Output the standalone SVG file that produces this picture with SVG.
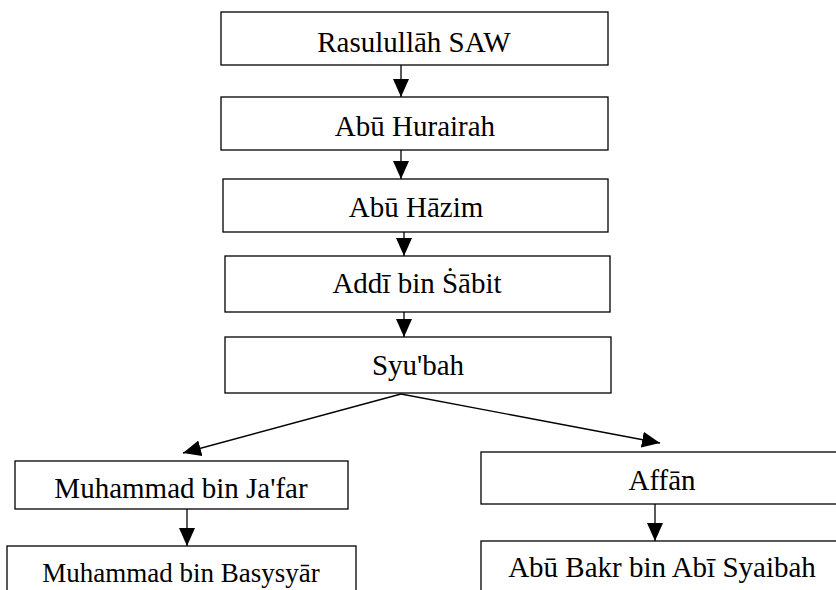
<svg xmlns="http://www.w3.org/2000/svg" width="836" height="590" viewBox="0 0 836 590">
<style>
.box{fill:#fff;stroke:#000;stroke-width:1.3}
.lbl{font-family:"Liberation Serif","Times New Roman",serif;font-size:29px;fill:#000;text-anchor:middle}
.con{stroke:#000;stroke-width:1.3;fill:none;marker-end:url(#ah)}
</style>
<defs>
<marker id="ah" viewBox="0 0 18 16" refX="18" refY="8" markerWidth="18" markerHeight="16" markerUnits="userSpaceOnUse" orient="auto">
<path d="M0,0 L18,8 L0,16 Z" fill="#000"/>
</marker>
</defs>
<rect width="836" height="590" fill="#fff"/>
<g id="connectors">
<line class="con" x1="401" y1="65" x2="401" y2="97"/>
<line class="con" x1="401" y1="150" x2="401" y2="179"/>
<line class="con" x1="404" y1="232" x2="404" y2="256"/>
<line class="con" x1="404" y1="312" x2="404" y2="337"/>
<line class="con" x1="401" y1="394" x2="183" y2="453"/>
<line class="con" x1="401" y1="394" x2="660" y2="443"/>
<line class="con" x1="187" y1="509" x2="187" y2="546"/>
<line class="con" x1="655" y1="504" x2="655" y2="541"/>
</g>
<g id="n1"><rect class="box" x="221" y="12" width="387" height="53"/><text class="lbl" x="414" y="52">Rasulullāh SAW</text></g>
<g id="n2"><rect class="box" x="221" y="97" width="387" height="53"/><text class="lbl" x="415" y="136">Abū Hurairah</text></g>
<g id="n3"><rect class="box" x="223" y="179" width="385" height="53"/><text class="lbl" x="416" y="217">Abū Hāzim</text></g>
<g id="n4"><rect class="box" x="225" y="256" width="385" height="56"/><text class="lbl" x="417" y="293">Addī bin Ṡābit</text></g>
<g id="n5"><rect class="box" x="225" y="337" width="386" height="56"/><text class="lbl" x="418" y="375">Syu'bah</text></g>
<g id="n6"><rect class="box" x="15" y="461" width="333" height="48"/><text class="lbl" x="181" y="498">Muhammad bin Ja'far</text></g>
<g id="n7"><rect class="box" x="7" y="546" width="349" height="60"/><text class="lbl" x="181" y="582" style="font-size:27px">Muhammad bin Basysyār</text></g>
<g id="n8"><rect class="box" x="481" y="452" width="370" height="52"/><text class="lbl" x="662" y="490">Affān</text></g>
<g id="n9"><rect class="box" x="481" y="541" width="370" height="60"/><text class="lbl" x="662" y="577">Abū Bakr bin Abī Syaibah</text></g>
</svg>
